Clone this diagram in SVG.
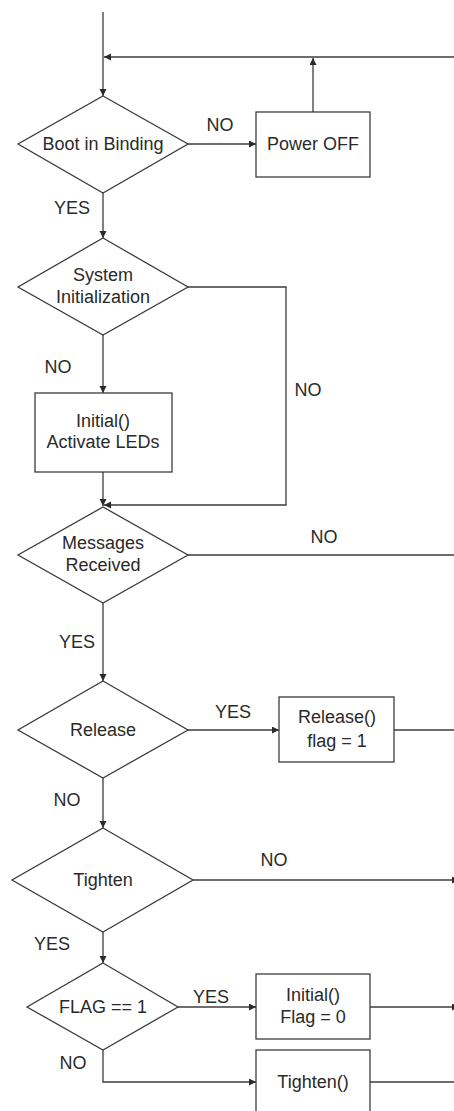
<svg xmlns="http://www.w3.org/2000/svg" width="454" height="1111" viewBox="0 0 454 1111">
<style>
.shape{fill:#ffffff;stroke:#3c3c3c;stroke-width:1.3}
.line{fill:none;stroke:#3c3c3c;stroke-width:1.3}
.arr{marker-end:url(#ah)}
text{font-family:"Liberation Sans",Arial,sans-serif;font-size:18px;fill:#2a2a2a;text-anchor:middle}
</style>
<defs>
<marker id="ah" markerUnits="userSpaceOnUse" markerWidth="10" markerHeight="8" refX="7" refY="3.5" orient="auto">
<path d="M0,0 L7,3.5 L0,7 Z" fill="#2a2a2a"/>
</marker>
</defs>
<rect x="0" y="0" width="454" height="1111" fill="#ffffff"/>
<g id="connectors">
<path class="line arr" d="M103,12 V96"/>
<path class="line arr" d="M454,57 H104"/>
<path class="line arr" d="M313,112 V58"/>
<path class="line arr" d="M188,144 H256"/>
<path class="line arr" d="M103,193 V238"/>
<path class="line arr" d="M188,287 H286 V505 H104"/>
<path class="line arr" d="M103,335 V393"/>
<path class="line arr" d="M103,472 V506"/>
<path class="line" d="M188,555 H454"/>
<path class="line arr" d="M103,603 V681"/>
<path class="line arr" d="M188,730 H279"/>
<path class="line" d="M394,730 H454"/>
<path class="line arr" d="M103,778 V828"/>
<path class="line arr" d="M193,880 H459"/>
<path class="line arr" d="M103,932 V963"/>
<path class="line arr" d="M178,1007 H256"/>
<path class="line arr" d="M370,1007 H459"/>
<path class="line arr" d="M103,1050 V1082 H256"/>
<path class="line" d="M370,1082 H454"/>
</g>
<g id="labels">
<text x="220" y="131">NO</text>
<text x="72" y="214">YES</text>
<text x="58" y="373">NO</text>
<text x="308" y="396">NO</text>
<text x="324" y="543">NO</text>
<text x="77" y="648">YES</text>
<text x="233" y="718">YES</text>
<text x="67" y="806">NO</text>
<text x="274" y="866">NO</text>
<text x="52" y="950">YES</text>
<text x="211" y="1003">YES</text>
<text x="73" y="1069">NO</text>
</g>
<g id="boot-in-binding">
<polygon class="shape" points="103,96 188,144 103,193 18,144"/>
<text x="103" y="150">Boot in Binding</text>
</g>
<g id="power-off">
<rect class="shape" x="256" y="112" width="114" height="65"/>
<text x="313" y="150">Power OFF</text>
</g>
<g id="system-initialization">
<polygon class="shape" points="103,238 188,287 103,335 18,287"/>
<text x="103" y="281">System</text>
<text x="103" y="303">Initialization</text>
</g>
<g id="initial-activate-leds">
<rect class="shape" x="35" y="393" width="137" height="79"/>
<text x="103" y="427">Initial()</text>
<text x="103" y="448">Activate LEDs</text>
</g>
<g id="messages-received">
<polygon class="shape" points="103,507 188,555 103,603 18,555"/>
<text x="103" y="549">Messages</text>
<text x="103" y="571">Received</text>
</g>
<g id="release">
<polygon class="shape" points="103,681 188,730 103,778 18,730"/>
<text x="103" y="736">Release</text>
</g>
<g id="release-box">
<rect class="shape" x="279" y="697" width="115" height="65"/>
<text x="337" y="723">Release()</text>
<text x="337" y="747">flag = 1</text>
</g>
<g id="tighten">
<polygon class="shape" points="103,828 193,880 103,932 12,880"/>
<text x="103" y="886">Tighten</text>
</g>
<g id="flag-check">
<polygon class="shape" points="103,963 178,1007 103,1050 27,1007"/>
<text x="103" y="1013">FLAG == 1</text>
</g>
<g id="initial-flag-box">
<rect class="shape" x="256" y="974" width="114" height="65"/>
<text x="313" y="1001">Initial()</text>
<text x="313" y="1023">Flag = 0</text>
</g>
<g id="tighten-box">
<rect class="shape" x="256" y="1050" width="114" height="75"/>
<text x="313" y="1088">Tighten()</text>
</g>
</svg>
